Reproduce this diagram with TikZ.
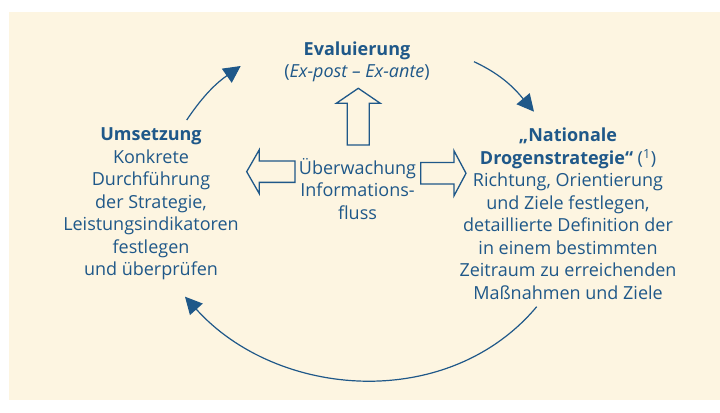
\documentclass[tikz,border=0pt]{standalone}
\usepackage{fontspec}
\setmainfont{Open Sans}
\usepackage{tikz}
\usetikzlibrary{shapes,arrows.meta,calc}
\definecolor{cream}{HTML}{FDF5E1}
\definecolor{drugblue}{HTML}{1F5889}

\begin{document}
\begin{tikzpicture}[x=1pt, y=1pt,
	txt/.style={text=drugblue, align=center, inner sep=0pt, font=\fontsize{18}{22.5}\selectfont},
	hollow/.style={draw=drugblue, line width=1.3pt, line join=miter},
	cycle/.style={draw=drugblue, line width=1.2pt, -{Triangle[length=17pt, width=17pt]}}]
	\fill[white] (0,0) rectangle (720,400);
	\fill[cream] (9,0) rectangle (720,388);
	\node[txt] (eval) at (357,338) {\textbf{Evaluierung}\\(\textit{Ex-post – Ex-ante})};
	\node[txt] (umsetzung) at (151,196) {\textbf{Umsetzung}\\Konkrete\\Durchführung\\der Strategie,\\Leistungsindikatoren\\festlegen\\und überprüfen};
	\node[txt] (nds) at (568,186) {\textbf{„Nationale}\\\textbf{Drogenstrategie“} (\textsuperscript{1})\\Richtung, Orientierung\\und Ziele festlegen,\\detaillierte Definition der\\in einem bestimmten\\Zeitraum zu erreichenden\\Maßnahmen und Ziele};
	\node[txt] (monitor) at (357.5,211) {Überwachung\\Informations-\\fluss};
	\draw[hollow] (358.3,311.7) -- (380.3,296.7) -- (369.3,296.7) -- (369.3,255) -- (347.3,255) -- (347.3,296.7) -- (336.3,296.7) -- cycle;
	\draw[hollow] (246.7,228.3) -- (259.3,250.3) -- (259.3,239) -- (295,239) -- (295,217.6) -- (259.3,217.6) -- (259.3,206.3) -- cycle;
	\draw[hollow] (466,226.7) -- (454,249.2) -- (454,237.5) -- (420.7,237.5) -- (420.7,215.9) -- (454,215.9) -- (454,204.2) -- cycle;
	\coordinate (umsOut) at (186.7,280);
	\coordinate (evalIn) at (240.7,334);
	\coordinate (evalOut) at (474,338.3);
	\coordinate (ndsIn) at (534,288.3);
	\coordinate (ndsOut) at (536.7,93.3);
	\coordinate (umsIn) at (185,103.3);
	\draw[cycle] (umsOut) to[out=56, in=215] (evalIn);
	\draw[cycle] (evalOut) to[out=-25, in=130] (ndsIn);
	\draw[cycle] (ndsOut) to[out=-130, in=-48] (umsIn);
\end{tikzpicture}
\end{document}
